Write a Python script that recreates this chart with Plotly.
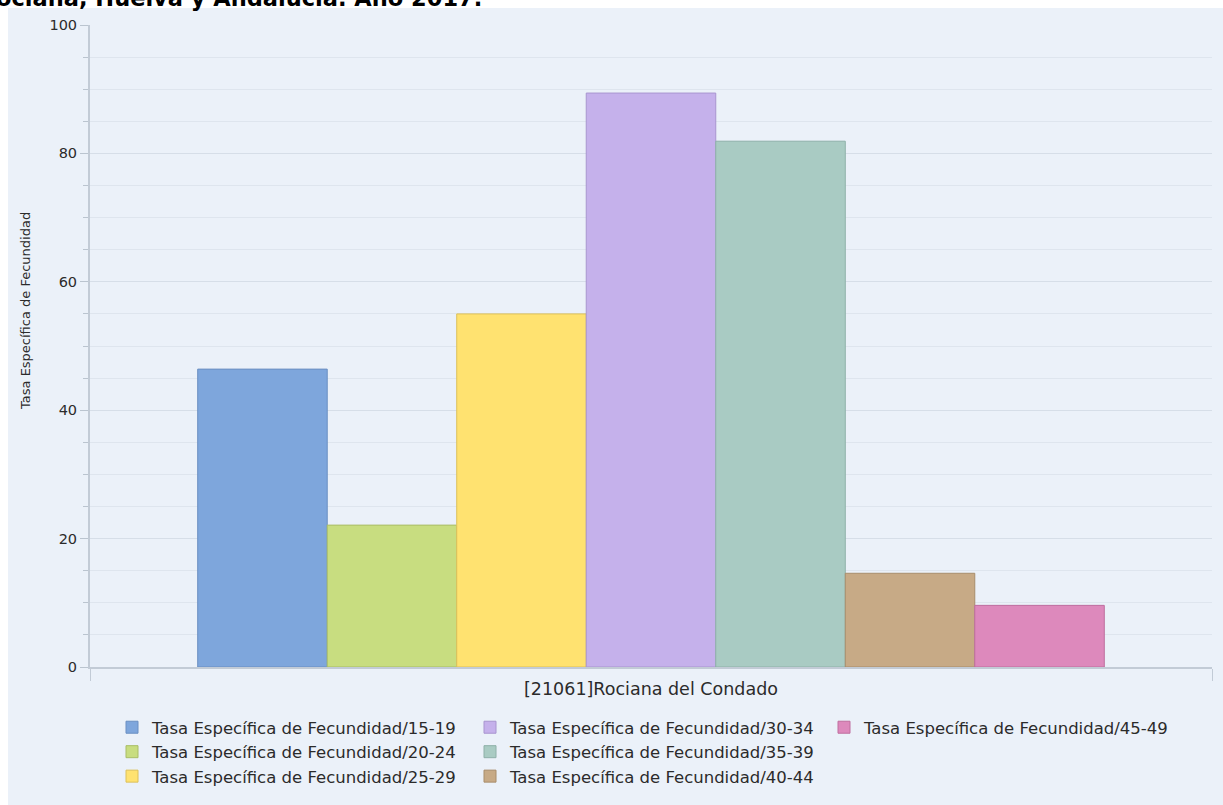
import plotly.graph_objects as go

# Age-specific fertility rates, Rociana del Condado, 2017
municipio = ["[21061]Rociana del Condado"]
series_names = [
    "Tasa Específica de Fecundidad/15-19",
    "Tasa Específica de Fecundidad/20-24",
    "Tasa Específica de Fecundidad/25-29",
    "Tasa Específica de Fecundidad/30-34",
    "Tasa Específica de Fecundidad/35-39",
    "Tasa Específica de Fecundidad/40-44",
    "Tasa Específica de Fecundidad/45-49",
]
tasas = [46.4, 22.1, 55.0, 89.4, 81.9, 14.6, 9.6]

fill_colors = ["#7EA6DC", "#C8DD80", "#FFE270", "#C5B1EB", "#A9CBC3", "#C7AA86", "#DD89BC"]
line_colors = ["#6A8FC2", "#A9BD66", "#DCC05A", "#A895CF", "#8EB0A8", "#A88D6B", "#BF6E9F"]
# legend column for each series (three columns, filled top to bottom)
legend_ids = ["legend", "legend", "legend", "legend2", "legend2", "legend2", "legend3"]

W, H = 1223, 805
L, R, T, B = 90, 11, 25, 138
PW, PH = W - L - R, H - T - B


def px_x(px):
    return (px - L) / PW


def px_y(py):
    return (H - B - py) / PH


FONT = "DejaVu Sans"
TXT = "#2B2B2B"

fig = go.Figure()
for name, val, fc, lc, lg in zip(series_names, tasas, fill_colors, line_colors, legend_ids):
    fig.add_trace(go.Bar(
        x=municipio, y=[val], name=name,
        marker=dict(color=fc, line=dict(color=lc, width=1)),
        legend=lg,
    ))

legend_common = dict(
    orientation="v", xanchor="left", yanchor="top",
    bgcolor="rgba(0,0,0,0)", borderwidth=0,
    font=dict(family=FONT, size=16.5, color=TXT),
    tracegroupgap=0, itemclick=False, itemdoubleclick=False,
)

fig.update_layout(
    width=W, height=H,
    margin=dict(l=L, r=R, t=T, b=B, autoexpand=False),
    paper_bgcolor="white",
    plot_bgcolor="rgba(0,0,0,0)",
    barmode="group", bargap=0.192, bargroupgap=0,
    showlegend=True,
    legend=dict(x=px_x(112), y=px_y(710), **legend_common),
    legend2=dict(x=px_x(470), y=px_y(710), **legend_common),
    legend3=dict(x=px_x(824), y=px_y(710), **legend_common),
    xaxis=dict(
        type="category",
        showline=True, linecolor="#C2CBD6", linewidth=2,
        ticks="outside", tickson="boundaries", ticklen=12,
        tickcolor="#C2CBD6", tickwidth=1,
        showgrid=False,
        ticklabelstandoff=5,
        tickfont=dict(family=FONT, size=17.5, color=TXT),
    ),
    yaxis=dict(
        range=[0, 100], dtick=20, tick0=0,
        showline=True, linecolor="#C2CBD6", linewidth=2,
        ticks="outside", ticklen=8, tickcolor="#BAC4CF", tickwidth=1,
        showgrid=True, gridcolor="#D6DEE8", gridwidth=1,
        zeroline=False,
        tickfont=dict(family=FONT, size=14.5, color=TXT),
        minor=dict(dtick=5, ticks="outside", ticklen=5, tickcolor="#BAC4CF",
                   showgrid=True, gridcolor="#DEE5EE", gridwidth=1),
    ),
    shapes=[
        dict(type="rect", xref="paper", yref="paper", layer="below",
             x0=px_x(8), x1=px_x(W), y0=px_y(H), y1=px_y(8),
             fillcolor="#EBF1F9", line=dict(width=0)),
    ],
    annotations=[
        dict(text="Tasa Específica de Fecundidad en Rociana, Huelva y Andalucía. Año 2017.",
             xref="paper", yref="paper", x=px_x(484), y=px_y(-1.5),
             xanchor="right", yanchor="middle", showarrow=False,
             font=dict(family="DejaVu Sans", size=22.5, color="black", weight="bold")),
        dict(text="Tasa Específica de Fecundidad",
             xref="paper", yref="paper", x=px_x(25), y=px_y(311),
             xanchor="center", yanchor="middle", textangle=-90, showarrow=False,
             font=dict(family=FONT, size=13, color=TXT)),
    ],
)

fig.write_html("out.html")
